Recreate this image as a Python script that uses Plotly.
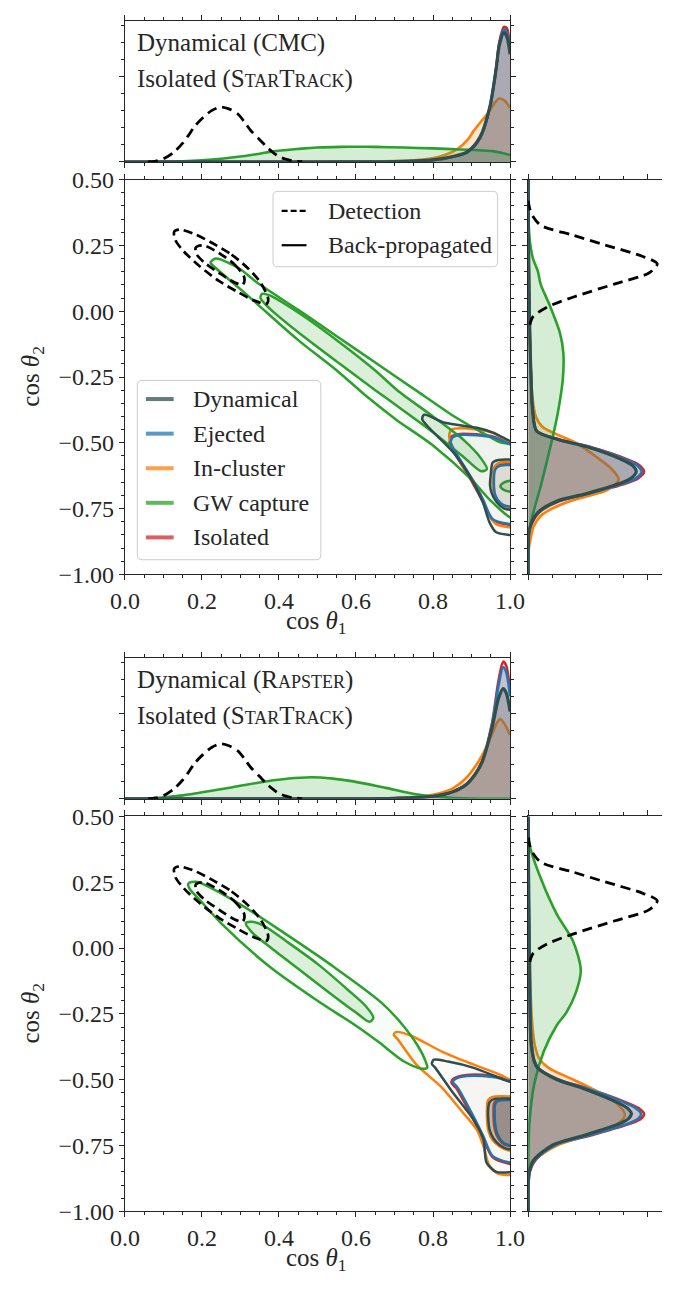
import plotly.graph_objects as go

W, H = 677, 1289
FONT = "Liberation Serif"
INK = "#262626"

# ---------------------------------------------------------------- categories
populations = ["Dynamical", "Ejected", "In-cluster", "GW capture", "Isolated"]
pop_colors = ["#2f4f4f", "#1f77b4", "#ff7f0e", "#2ca02c", "#d62728"]
style_labels = ["Detection", "Back-propagated"]

# ---------------------------------------------------------------- ticks
cos1_ticks = [0.0, 0.2, 0.4, 0.6, 0.8, 1.0]
cos1_labels = ["0.0", "0.2", "0.4", "0.6", "0.8", "1.0"]
cos2_ticks = [-1.0, -0.75, -0.5, -0.25, 0.0, 0.25, 0.5]
cos2_labels = ["\u22121.00", "\u22120.75", "\u22120.50", "\u22120.25", "0.00", "0.25", "0.50"]
dens_ticks = [0, 5]

# ---------------------------------------------------------------- detection (both rows)
det_c1_grid = [0.06, 0.08, 0.10, 0.128, 0.15, 0.165, 0.18, 0.203, 0.225, 0.248, 0.27,
               0.294, 0.31, 0.327, 0.35, 0.368, 0.385, 0.401, 0.42, 0.434, 0.46]
det_c1_dens = [0.0, 0.05, 0.18, 0.59, 1.1, 1.55, 2.05, 2.6, 3.0, 3.21, 3.1,
               2.79, 2.35, 1.83, 1.3, 0.88, 0.55, 0.30, 0.15, 0.07, 0.01]
det_c2_grid = [0.42, 0.388, 0.36, 0.326, 0.289, 0.252, 0.208, 0.18, 0.146, 0.103,
               0.053, 0.016, -0.021, -0.06]
det_c2_dens = [0.0, 0.07, 0.2, 0.53, 1.87, 3.2, 4.8, 5.4, 5.07, 3.6,
               1.87, 0.8, 0.2, 0.05]
det_outer_c1 = [0.228, 0.277, 0.318, 0.352, 0.372, 0.368, 0.335, 0.294, 0.244, 0.194,
                0.153, 0.131, 0.128, 0.141, 0.178, 0.228]
det_outer_c2 = [0.258, 0.215, 0.165, 0.109, 0.047, 0.028, 0.041, 0.072, 0.115, 0.171,
                0.227, 0.270, 0.302, 0.310, 0.295, 0.258]
det_inner_c1 = [0.244, 0.285, 0.310, 0.306, 0.285, 0.244, 0.207, 0.186, 0.184, 0.203, 0.244]
det_inner_c2 = [0.221, 0.177, 0.128, 0.101, 0.109, 0.146, 0.184, 0.217, 0.242, 0.250, 0.221]

# ---------------------------------------------------------------- CMC row: cos(theta_1) marginals
cmc_c1_grid = [0.0, 0.5, 0.7, 0.8, 0.848, 0.889, 0.922, 0.947, 0.964, 0.972, 0.984, 0.992, 1.0]
cmc_c1_dyn = [0, 0, 0.02, 0.12, 0.30, 0.59, 1.45, 3.17, 5.46, 6.8, 7.56, 7.3, 6.3]
cmc_c1_ej = [0, 0, 0.02, 0.11, 0.28, 0.57, 1.40, 3.12, 5.48, 6.9, 7.75, 7.55, 6.45]
cmc_c1_iso = [0, 0, 0.02, 0.10, 0.27, 0.55, 1.38, 3.10, 5.50, 7.0, 7.90, 7.8, 6.6]
cmc_c1_inc_grid = [0.0, 0.5, 0.6, 0.7, 0.75, 0.798, 0.831, 0.865, 0.89, 0.906, 0.93,
                   0.947, 0.96, 0.972, 0.985, 1.0]
cmc_c1_inc = [0, 0, 0.01, 0.05, 0.1, 0.21, 0.40, 0.78, 1.3, 1.83, 2.5,
              2.98, 3.45, 3.71, 3.6, 3.17]
cmc_c1_gw_grid = [0.0, 0.1, 0.15, 0.2, 0.25, 0.294, 0.34, 0.376, 0.42, 0.459, 0.5,
                  0.558, 0.6, 0.65, 0.724, 0.8, 0.872, 0.92, 0.955, 0.98, 1.0]
cmc_c1_gw = [0, 0.01, 0.04, 0.1, 0.19, 0.30, 0.45, 0.59, 0.70, 0.78, 0.84,
             0.88, 0.89, 0.88, 0.84, 0.79, 0.73, 0.68, 0.63, 0.52, 0.40]

# ---------------------------------------------------------------- CMC row: cos(theta_2) marginals
cmc_c2_grid = [0.5, 0.3, 0.1, -0.1, -0.257, -0.381, -0.455, -0.486, -0.517, -0.561,
               -0.585, -0.61, -0.635, -0.654, -0.691, -0.722, -0.766, -0.828, -0.9, -1.0]
cmc_c2_dyn = [0, 0.01, 0.03, 0.07, 0.12, 0.19, 0.35, 1.2, 2.52, 3.85,
              4.35, 4.52, 4.3, 3.85, 2.52, 1.19, 0.39, 0.05, 0, 0]
cmc_c2_ej = [0, 0.01, 0.03, 0.07, 0.12, 0.19, 0.35, 1.22, 2.6, 4.0,
             4.55, 4.75, 4.5, 4.0, 2.62, 1.25, 0.42, 0.06, 0, 0]
cmc_c2_iso = [0, 0.01, 0.03, 0.07, 0.12, 0.19, 0.36, 1.25, 2.65, 4.1,
              4.65, 4.85, 4.6, 4.1, 2.7, 1.3, 0.45, 0.07, 0, 0]
cmc_c2_inc_grid = [0.5, 0.2, 0.0, -0.2, -0.33, -0.4, -0.44, -0.468, -0.5, -0.55, -0.6,
                   -0.64, -0.68, -0.70, -0.72, -0.75, -0.778, -0.82, -0.864, -0.9, -1.0]
cmc_c2_inc = [0, 0.03, 0.06, 0.1, 0.18, 0.32, 0.6, 1.2, 2.0, 2.8, 3.5,
              3.79, 3.3, 2.6, 1.8, 1.0, 0.52, 0.22, 0.1, 0.03, 0]
cmc_c2_gw_grid = [0.5, 0.36, 0.265, 0.2, 0.153, 0.103, 0.016, -0.083, -0.158, -0.257,
                  -0.381, -0.468, -0.567, -0.666, -0.753, -0.828, -0.9, -1.0]
cmc_c2_gw = [0, 0.01, 0.07, 0.2, 0.4, 0.52, 0.93, 1.33, 1.47, 1.45,
             1.25, 1.05, 0.79, 0.52, 0.25, 0.05, 0, 0]

# ---------------------------------------------------------------- CMC row: 2D credible contours
cmc_dyn_outer_c1 = [1.02, 1.0, 0.955, 0.914, 0.831, 0.777, 0.772, 0.789, 0.856, 0.906,
                    0.930, 0.947, 0.964, 1.0, 1.02]
cmc_dyn_outer_c2 = [-0.50, -0.493, -0.461, -0.443, -0.424, -0.393, -0.41, -0.442, -0.542, -0.654,
                    -0.728, -0.803, -0.840, -0.850, -0.852]
cmc_dyn_inner_c1 = [1.02, 0.97, 0.955, 0.950, 0.948, 0.952, 0.965, 0.985, 1.02]
cmc_dyn_inner_c2 = [-0.565, -0.565, -0.575, -0.62, -0.66, -0.69, -0.725, -0.75, -0.757]
cmc_inc_outer_c1 = [1.02, 1.0, 0.955, 0.873, 0.848, 0.842, 0.848, 0.873, 0.914, 0.947,
                    0.964, 1.0, 1.02]
cmc_inc_outer_c2 = [-0.51, -0.499, -0.461, -0.445, -0.45, -0.475, -0.505, -0.579, -0.666, -0.778,
                    -0.809, -0.821, -0.825]
cmc_inc_inner_c1 = [1.02, 0.975, 0.96, 0.955, 0.958, 0.968, 0.985, 1.02]
cmc_inc_inner_c2 = [-0.575, -0.575, -0.59, -0.64, -0.69, -0.725, -0.745, -0.75]
cmc_ej_outer_c1 = [1.02, 1.0, 0.955, 0.873, 0.851, 0.846, 0.856, 0.898, 0.930, 0.955, 1.0, 1.02]
cmc_ej_outer_c2 = [-0.51, -0.505, -0.479, -0.470, -0.479, -0.50, -0.530, -0.629, -0.716, -0.790,
                   -0.809, -0.81]
cmc_ej_inner_c1 = [1.02, 0.975, 0.962, 0.958, 0.962, 0.975, 0.99, 1.02]
cmc_ej_inner_c2 = [-0.586, -0.586, -0.60, -0.65, -0.70, -0.728, -0.74, -0.743]
cmc_iso_outer_c1 = [1.02, 1.0, 0.955, 0.871, 0.848, 0.843, 0.853, 0.895, 0.928, 0.955, 1.0, 1.02]
cmc_iso_outer_c2 = [-0.507, -0.502, -0.476, -0.466, -0.476, -0.50, -0.532, -0.632, -0.72, -0.794,
                    -0.812, -0.814]
cmc_iso_inner_c1 = [1.02, 0.973, 0.96, 0.956, 0.96, 0.973, 0.99, 1.02]
cmc_iso_inner_c2 = [-0.583, -0.583, -0.598, -0.65, -0.702, -0.732, -0.744, -0.747]
cmc_gw_outer_c1 = [1.02, 1.02, 1.0, 0.947, 0.9, 0.8, 0.707, 0.633, 0.55, 0.45, 0.343, 0.294,
                   0.235, 0.222, 0.236, 0.294, 0.343, 0.45, 0.55, 0.65, 0.75, 0.85, 0.92, 0.97, 1.02]
cmc_gw_outer_c2 = [-0.52, -0.80, -0.784, -0.716, -0.64, -0.51, -0.415, -0.33, -0.225, -0.11, 0.028,
                   0.091, 0.165, 0.185, 0.200, 0.165, 0.109, 0.005, -0.095, -0.195, -0.295, -0.395,
                   -0.455, -0.495, -0.52]
cmc_gw_inner_c1 = [0.55, 0.65, 0.707, 0.8, 0.88, 0.925, 0.94, 0.925, 0.88, 0.8, 0.707, 0.65,
                   0.558, 0.45, 0.376, 0.352, 0.356, 0.376, 0.45, 0.55]
cmc_gw_inner_c2 = [-0.11, -0.225, -0.30, -0.40, -0.49, -0.56, -0.60, -0.608, -0.555, -0.46, -0.36,
                   -0.30, -0.20, -0.08, 0.01, 0.05, 0.066, 0.06, -0.005, -0.11]
cmc_gw_edge_c1 = [1.02, 0.985, 0.975, 0.985, 1.02]
cmc_gw_edge_c2 = [-0.64, -0.65, -0.665, -0.68, -0.69]

# ---------------------------------------------------------------- Rapster row: cos(theta_1) marginals
rap_c1_grid = [0.0, 0.6, 0.7, 0.8, 0.85, 0.886, 0.91, 0.928, 0.953, 0.97, 0.982, 0.99, 1.0]
rap_c1_dyn = [0, 0, 0.03, 0.15, 0.4, 0.83, 1.45, 2.18, 4.12, 5.86, 6.44, 6.2, 5.1]
rap_c1_ej = [0, 0, 0.03, 0.15, 0.4, 0.83, 1.45, 2.2, 4.3, 6.6, 7.69, 7.4, 6.0]
rap_c1_iso = [0, 0, 0.03, 0.15, 0.4, 0.84, 1.47, 2.25, 4.4, 6.9, 8.02, 7.8, 6.3]
rap_c1_inc_grid = [0.0, 0.6, 0.7, 0.75, 0.803, 0.85, 0.886, 0.91, 0.928, 0.95, 0.965,
                   0.974, 0.985, 1.0]
rap_c1_inc = [0, 0.01, 0.04, 0.1, 0.25, 0.6, 1.22, 1.9, 2.57, 3.6, 4.4, 4.66, 4.4, 3.73]
rap_c1_gw_grid = [0.0, 0.05, 0.09, 0.15, 0.217, 0.28, 0.342, 0.42, 0.485, 0.54, 0.593,
                  0.677, 0.761, 0.845, 0.9, 1.0]
rap_c1_gw = [0, 0.01, 0.06, 0.2, 0.44, 0.68, 0.93, 1.17, 1.26, 1.18, 1.02,
             0.64, 0.25, 0.06, 0.02, 0.0]

# ---------------------------------------------------------------- Rapster row: cos(theta_2) marginals
rap_c2_grid = [0.5, 0.2, 0.0, -0.17, -0.356, -0.43, -0.455, -0.499, -0.536, -0.586,
               -0.608, -0.629, -0.648, -0.666, -0.71, -0.747, -0.803, -0.846, -0.9, -1.0]
rap_c2_dyn = [0, 0.02, 0.04, 0.06, 0.12, 0.25, 0.39, 1.19, 2.39, 3.72,
              4.15, 4.32, 4.2, 3.85, 2.39, 1.05, 0.25, 0.05, 0, 0]
rap_c2_ej = [0, 0.03, 0.06, 0.09, 0.14, 0.27, 0.42, 1.25, 2.55, 4.0,
             4.5, 4.72, 4.6, 4.2, 2.6, 1.15, 0.3, 0.06, 0, 0]
rap_c2_iso = [0, 0.01, 0.03, 0.05, 0.11, 0.25, 0.40, 1.27, 2.6, 4.1,
              4.62, 4.85, 4.72, 4.3, 2.7, 1.2, 0.33, 0.08, 0.01, 0]
rap_c2_inc_grid = [0.5, 0.2, 0.0, -0.17, -0.3, -0.37, -0.418, -0.455, -0.5, -0.54, -0.59,
                   -0.635, -0.675, -0.715, -0.75, -0.79, -0.815, -0.86, -1.0]
rap_c2_inc = [0, 0.02, 0.06, 0.1, 0.18, 0.28, 0.45, 0.85, 1.9, 2.8, 3.7,
              4.05, 3.6, 2.3, 1.2, 0.45, 0.12, 0.02, 0]
rap_c2_gw_grid = [0.5, 0.45, 0.388, 0.264, 0.128, 0.028, -0.083, -0.17, -0.244, -0.294,
                  -0.393, -0.517, -0.666, -0.815, -1.0]
rap_c2_gw = [0, 0.01, 0.07, 0.53, 1.2, 1.87, 2.2, 1.99, 1.6, 1.19, 0.65, 0.25, 0.05, 0, 0]

# ---------------------------------------------------------------- Rapster row: 2D credible contours
rap_dyn_outer_c1 = [1.02, 1.0, 0.972, 0.906, 0.839, 0.802, 0.797, 0.806, 0.848, 0.906,
                    0.931, 0.939, 0.964, 1.0, 1.02]
rap_dyn_outer_c2 = [-0.51, -0.508, -0.493, -0.455, -0.431, -0.424, -0.44, -0.455, -0.542, -0.654,
                    -0.728, -0.815, -0.850, -0.852, -0.855]
rap_dyn_inner_c1 = [1.02, 0.96, 0.947, 0.943, 0.947, 0.958, 0.972, 0.99, 1.02]
rap_dyn_inner_c2 = [-0.573, -0.573, -0.585, -0.617, -0.691, -0.725, -0.747, -0.762, -0.766]
rap_inc_outer_c1 = [1.02, 1.0, 0.972, 0.906, 0.823, 0.740, 0.703, 0.698, 0.707, 0.757, 0.823,
                    0.873, 0.914, 0.931, 0.947, 0.972, 1.0, 1.02]
rap_inc_outer_c2 = [-0.50, -0.499, -0.480, -0.443, -0.393, -0.331, -0.319, -0.33, -0.344, -0.443,
                    -0.530, -0.617, -0.691, -0.753, -0.828, -0.859, -0.862, -0.865]
rap_inc_inner_c1 = [1.02, 0.955, 0.943, 0.94, 0.944, 0.955, 0.975, 0.995, 1.02]
rap_inc_inner_c2 = [-0.565, -0.565, -0.578, -0.617, -0.695, -0.73, -0.755, -0.768, -0.77]
rap_ej_outer_c1 = [1.02, 1.0, 0.955, 0.889, 0.856, 0.852, 0.864, 0.906, 0.931, 0.955, 1.0, 1.02]
rap_ej_outer_c2 = [-0.51, -0.505, -0.490, -0.486, -0.499, -0.51, -0.530, -0.642, -0.716, -0.790,
                   -0.815, -0.818]
rap_ej_inner_c1 = [1.02, 0.972, 0.962, 0.960, 0.964, 0.972, 0.985, 1.02]
rap_ej_inner_c2 = [-0.579, -0.579, -0.59, -0.617, -0.691, -0.72, -0.742, -0.754]
rap_iso_outer_c1 = [1.02, 1.0, 0.955, 0.887, 0.852, 0.848, 0.86, 0.903, 0.929, 0.955, 1.0, 1.02]
rap_iso_outer_c2 = [-0.505, -0.502, -0.486, -0.482, -0.497, -0.512, -0.532, -0.645, -0.72, -0.795,
                    -0.82, -0.822]
rap_iso_inner_c1 = [1.02, 0.97, 0.959, 0.957, 0.961, 0.97, 0.984, 1.02]
rap_iso_inner_c2 = [-0.576, -0.576, -0.588, -0.617, -0.693, -0.724, -0.746, -0.758]
rap_gw_outer_c1 = [0.418, 0.542, 0.666, 0.72, 0.76, 0.782, 0.785, 0.77, 0.724, 0.658, 0.6, 0.5,
                   0.376, 0.252, 0.19, 0.168, 0.165, 0.186, 0.294, 0.418]
rap_gw_outer_c2 = [0.053, -0.071, -0.207, -0.29, -0.37, -0.435, -0.455, -0.458, -0.43, -0.356,
                   -0.295, -0.2, -0.071, 0.091, 0.19, 0.225, 0.246, 0.252, 0.171, 0.053]
rap_gw_inner_c1 = [0.5, 0.58, 0.625, 0.645, 0.635, 0.6, 0.54, 0.46, 0.38, 0.33, 0.314, 0.33,
                   0.36, 0.42, 0.5]
rap_gw_inner_c2 = [-0.06, -0.16, -0.22, -0.265, -0.28, -0.245, -0.18, -0.09, 0.0, 0.06, 0.095,
                   0.1, 0.085, 0.025, -0.06]

# ---------------------------------------------------------------- assembly
COLOR = dict(zip(populations, pop_colors))


def rgba(hex_color, a):
    h = hex_color.lstrip("#")
    return "rgba({},{},{},{})".format(int(h[0:2], 16), int(h[2:4], 16), int(h[4:6], 16), a)


# code names set in small capitals
SMALL = '<span style="font-size:18px">{}</span>'
startrack = "S" + SMALL.format("TAR") + "T" + SMALL.format("RACK")
rapster = "R" + SMALL.format("APSTER")

rows = [
    dict(
        shift=0,
        notes=["Dynamical (CMC)", "Isolated (" + startrack + ")"],
        c1=[("Isolated", cmc_c1_grid, cmc_c1_iso), ("In-cluster", cmc_c1_inc_grid, cmc_c1_inc),
            ("GW capture", cmc_c1_gw_grid, cmc_c1_gw), ("Ejected", cmc_c1_grid, cmc_c1_ej),
            ("Dynamical", cmc_c1_grid, cmc_c1_dyn)],
        c2=[("Isolated", cmc_c2_grid, cmc_c2_iso), ("In-cluster", cmc_c2_inc_grid, cmc_c2_inc),
            ("GW capture", cmc_c2_gw_grid, cmc_c2_gw), ("Ejected", cmc_c2_grid, cmc_c2_ej),
            ("Dynamical", cmc_c2_grid, cmc_c2_dyn)],
        contours=[("Isolated", 0, cmc_iso_outer_c1, cmc_iso_outer_c2),
                  ("Isolated", 1, cmc_iso_inner_c1, cmc_iso_inner_c2),
                  ("In-cluster", 0, cmc_inc_outer_c1, cmc_inc_outer_c2),
                  ("In-cluster", 1, cmc_inc_inner_c1, cmc_inc_inner_c2),
                  ("GW capture", 0, cmc_gw_outer_c1, cmc_gw_outer_c2),
                  ("GW capture", 1, cmc_gw_inner_c1, cmc_gw_inner_c2),
                  ("GW capture", 1, cmc_gw_edge_c1, cmc_gw_edge_c2),
                  ("Ejected", 0, cmc_ej_outer_c1, cmc_ej_outer_c2),
                  ("Ejected", 1, cmc_ej_inner_c1, cmc_ej_inner_c2),
                  ("Dynamical", 0, cmc_dyn_outer_c1, cmc_dyn_outer_c2),
                  ("Dynamical", 1, cmc_dyn_inner_c1, cmc_dyn_inner_c2)],
        inner_alpha=0.04,
    ),
    dict(
        shift=650,
        notes=["Dynamical (" + rapster + ")", "Isolated (" + startrack + ")"],
        c1=[("Isolated", rap_c1_grid, rap_c1_iso), ("In-cluster", rap_c1_inc_grid, rap_c1_inc),
            ("GW capture", rap_c1_gw_grid, rap_c1_gw), ("Ejected", rap_c1_grid, rap_c1_ej),
            ("Dynamical", rap_c1_grid, rap_c1_dyn)],
        c2=[("Isolated", rap_c2_grid, rap_c2_iso), ("In-cluster", rap_c2_inc_grid, rap_c2_inc),
            ("GW capture", rap_c2_gw_grid, rap_c2_gw), ("Ejected", rap_c2_grid, rap_c2_ej),
            ("Dynamical", rap_c2_grid, rap_c2_dyn)],
        contours=[("Isolated", 0, rap_iso_outer_c1, rap_iso_outer_c2),
                  ("Isolated", 1, rap_iso_inner_c1, rap_iso_inner_c2),
                  ("In-cluster", 0, rap_inc_outer_c1, rap_inc_outer_c2),
                  ("In-cluster", 1, rap_inc_inner_c1, rap_inc_inner_c2),
                  ("GW capture", 0, rap_gw_outer_c1, rap_gw_outer_c2),
                  ("GW capture", 1, rap_gw_inner_c1, rap_gw_inner_c2),
                  ("Ejected", 0, rap_ej_outer_c1, rap_ej_outer_c2),
                  ("Ejected", 1, rap_ej_inner_c1, rap_ej_inner_c2),
                  ("Dynamical", 0, rap_dyn_outer_c1, rap_dyn_outer_c2),
                  ("Dynamical", 1, rap_dyn_inner_c1, rap_dyn_inner_c2)],
        inner_alpha=0.24,
    ),
]

# panel geometry in pixels (first row; the second row is shifted down)
LEFT, RIGHT, RLEFT = 115, 518, 537
MTOP, MBOT, TOP, BOT = 8, 152, 170, 573


def xdom(a, b):
    return [a / W, min(b / W, 1.0)]


def ydom(top, bot):
    return [1 - bot / H, 1 - top / H]


def aname(n):
    return "" if n == 1 else str(n)


def px(x):
    return x / W


def py(y):
    return 1 - y / H


fig = go.Figure()
layout = dict(
    width=W, height=H, margin=dict(l=0, r=0, t=0, b=0),
    paper_bgcolor="white", plot_bgcolor="white", showlegend=False,
    font=dict(family=FONT, size=23, color=INK),
)
annotations, shapes = [], []


def axis(**kw):
    base = dict(showgrid=False, zeroline=False, showline=True, linecolor=INK, linewidth=1,
                ticks="outside", tickcolor=INK, ticklen=5, tickwidth=1,
                tickfont=dict(family=FONT, size=24, color=INK))
    base.update(kw)
    return base


def minor(step):
    return dict(ticks="outside", ticklen=3, tickwidth=1, tickcolor=INK, dtick=step, tick0=0,
                showgrid=False)


TEXT_FONT = dict(family=FONT, size=25, color=INK)
LEGEND_FONT = dict(family=FONT, size=24, color=INK)

for r, row in enumerate(rows):
    s = row["shift"]
    nt, nm, nr = 3 * r + 1, 3 * r + 2, 3 * r + 3
    # top marginal: cos theta_1 density
    layout["xaxis" + aname(nt)] = axis(domain=xdom(LEFT, RIGHT), anchor="y" + aname(nt), range=[0, 1],
                                      mirror="ticks", tickmode="array", tickvals=cos1_ticks,
                                      showticklabels=False, minor=minor(0.05))
    layout["yaxis" + aname(nt)] = axis(domain=ydom(MTOP + s, MBOT + s), anchor="x" + aname(nt),
                                      range=[0, 8.25], mirror="ticks", tickmode="array",
                                      tickvals=dens_ticks, showticklabels=False, minor=minor(1))
    # main panel
    layout["xaxis" + aname(nm)] = axis(domain=xdom(LEFT, RIGHT), anchor="y" + aname(nm), range=[0, 1],
                                      mirror="ticks", tickmode="array", tickvals=cos1_ticks,
                                      ticktext=cos1_labels, minor=minor(0.05))
    layout["yaxis" + aname(nm)] = axis(domain=ydom(TOP + s, BOT + s), anchor="x" + aname(nm),
                                      range=[-1, 0.5], mirror="ticks", tickmode="array",
                                      tickvals=cos2_ticks, ticktext=cos2_labels, minor=minor(0.05))
    # right marginal: cos theta_2 density
    layout["xaxis" + aname(nr)] = axis(domain=xdom(RLEFT, W), anchor="y" + aname(nr), range=[0, 5.6],
                                      mirror="ticks", tickmode="array", tickvals=dens_ticks,
                                      showticklabels=False, minor=minor(1))
    layout["yaxis" + aname(nr)] = axis(domain=ydom(TOP + s, BOT + s), anchor="x" + aname(nr),
                                      range=[-1, 0.5], mirror=False, tickmode="array",
                                      tickvals=cos2_ticks, showticklabels=False, minor=minor(0.05))

    xt, yt = "x" + aname(nt), "y" + aname(nt)
    xm, ym = "x" + aname(nm), "y" + aname(nm)
    xr, yr = "x" + aname(nr), "y" + aname(nr)

    # marginal densities
    for pop, grid, dens in row["c1"]:
        c = COLOR[pop]
        fig.add_trace(go.Scatter(x=grid, y=dens, xaxis=xt, yaxis=yt, mode="lines",
                                 line=dict(color=c, width=3.2 if pop == "Dynamical" else 2.6,
                                           shape="spline", smoothing=0.8),
                                 fill="tozeroy", fillcolor=rgba(c, 0.2), hoverinfo="skip"))
    fig.add_trace(go.Scatter(x=det_c1_grid, y=det_c1_dens, xaxis=xt, yaxis=yt, mode="lines",
                             line=dict(color="black", width=2.8, dash="10px,6px",
                                       shape="spline", smoothing=0.8), hoverinfo="skip"))
    for pop, grid, dens in row["c2"]:
        c = COLOR[pop]
        fig.add_trace(go.Scatter(x=dens, y=grid, xaxis=xr, yaxis=yr, mode="lines",
                                 line=dict(color=c, width=3.2 if pop == "Dynamical" else 2.6,
                                           shape="spline", smoothing=0.8),
                                 fill="tozerox", fillcolor=rgba(c, 0.2), hoverinfo="skip"))
    fig.add_trace(go.Scatter(x=det_c2_dens, y=det_c2_grid, xaxis=xr, yaxis=yr, mode="lines",
                             line=dict(color="black", width=2.8, dash="10px,6px",
                                       shape="spline", smoothing=0.8), hoverinfo="skip"))

    # 2D contours
    for pop, level, cx, cy in row["contours"]:
        c = COLOR[pop]
        if pop == "GW capture":
            a = 0.14 if level else 0.03
        else:
            a = row["inner_alpha"] if level else 0.015
        fig.add_trace(go.Scatter(x=cx, y=cy, xaxis=xm, yaxis=ym, mode="lines",
                                 line=dict(color=c, width=2.5, shape="spline", smoothing=0.8),
                                 fill="toself", fillcolor=rgba(c, a), hoverinfo="skip"))
    for cx, cy in [(det_outer_c1, det_outer_c2), (det_inner_c1, det_inner_c2)]:
        fig.add_trace(go.Scatter(x=cx, y=cy, xaxis=xm, yaxis=ym, mode="lines",
                                 line=dict(color="black", width=2.7, dash="9px,5px",
                                           shape="spline", smoothing=0.8), hoverinfo="skip"))

    # population notes in the top marginal
    for i, note in enumerate(row["notes"]):
        annotations.append(dict(text=note, x=px(126), y=py(31 + 36 * i + s), xref="paper", yref="paper",
                                xanchor="left", yanchor="middle", showarrow=False, font=TEXT_FONT))
    # axis titles
    annotations.append(dict(text="cos <i>\u03b8</i><sub>1</sub>", x=px(316), y=py(622 + s),
                            xref="paper", yref="paper", xanchor="center", yanchor="middle",
                            showarrow=False, font=TEXT_FONT))
    annotations.append(dict(text="cos <i>\u03b8</i><sub>2</sub>", x=px(18), y=py(371 + s),
                            xref="paper", yref="paper", xanchor="center", yanchor="middle",
                            textangle=-90, showarrow=False, font=TEXT_FONT))


def rounded_box(x0, y0, x1, y1, rad=5):
    return ("M {a},{b} L {c},{b} Q {d},{b} {d},{e} L {d},{f} Q {d},{g} {c},{g} "
            "L {a},{g} Q {h},{g} {h},{f} L {h},{e} Q {h},{b} {a},{b} Z").format(
        a=px(x0 + rad), b=py(y0), c=px(x1 - rad), d=px(x1), e=py(y0 + rad), f=py(y1 - rad),
        g=py(y1), h=px(x0))


# legends inside the first main panel
legend_box = dict(type="path", xref="paper", yref="paper", layer="above",
                  fillcolor="rgba(255,255,255,0.8)", line=dict(color="#cccccc", width=1))
shapes.append(dict(legend_box, path=rounded_box(270, 182, 505, 259)))
for i, (lab, dash) in enumerate(zip(style_labels, ["6px,3px", "solid"])):
    yy = 202 + 35 * i
    shapes.append(dict(type="line", xref="paper", yref="paper", layer="above",
                       x0=px(279), x1=px(305), y0=py(yy), y1=py(yy),
                       line=dict(color="black", width=2.2, dash=dash)))
    annotations.append(dict(text=lab, x=px(325), y=py(yy), xref="paper", yref="paper",
                            xanchor="left", yanchor="middle", showarrow=False, font=LEGEND_FONT))

shapes.append(dict(legend_box, path=rounded_box(128, 375, 320, 558)))
for i, pop in enumerate(populations):
    yy = 394 + 35.3 * i
    shapes.append(dict(type="line", xref="paper", yref="paper", layer="above",
                       x0=px(137), x1=px(166), y0=py(yy), y1=py(yy),
                       line=dict(color=rgba(COLOR[pop], 0.75), width=4)))
    annotations.append(dict(text=pop, x=px(184), y=py(yy), xref="paper", yref="paper",
                            xanchor="left", yanchor="middle", showarrow=False, font=LEGEND_FONT))

layout["annotations"] = annotations
layout["shapes"] = shapes
fig.update_layout(**layout)
fig.write_html("out.html")
